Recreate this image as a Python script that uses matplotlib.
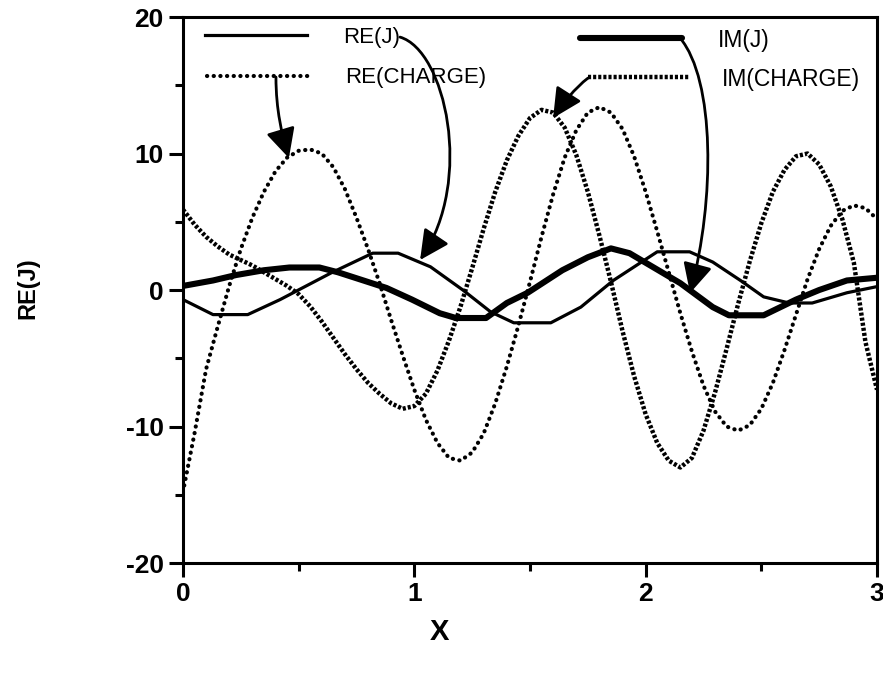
import matplotlib
matplotlib.use("Agg")
import matplotlib.pyplot as plt
from matplotlib.patches import FancyArrowPatch
from matplotlib.path import Path
from matplotlib.ticker import MultipleLocator

plt.rcParams["axes.unicode_minus"] = False

# ---- data ----
x_charge = [0.00, 0.05, 0.10, 0.15, 0.20, 0.25, 0.30, 0.35, 0.40, 0.45,
            0.50, 0.55, 0.60, 0.65, 0.70, 0.75, 0.80, 0.85, 0.90, 0.95,
            1.00, 1.05, 1.10, 1.15, 1.20, 1.25, 1.30, 1.35, 1.40, 1.45,
            1.50, 1.55, 1.60, 1.65, 1.70, 1.75, 1.80, 1.85, 1.90, 1.95,
            2.00, 2.05, 2.10, 2.15, 2.20, 2.25, 2.30, 2.35, 2.40, 2.45,
            2.50, 2.55, 2.60, 2.65, 2.70, 2.75, 2.80, 2.85, 2.90, 2.95, 3.00]

re_charge = [-14.8, -10.5, -5.8, -2.7, 0.3, 3.0, 5.3, 7.2, 8.7, 9.7,
             10.2, 10.3, 10.0, 9.0, 7.4, 5.3, 3.0, 0.5, -2.2, -4.8,
             -7.3, -9.5, -11.2, -12.3, -12.5, -11.9, -10.5, -8.3, -5.6, -2.6,
             0.6, 3.9, 7.0, 9.7, 11.7, 13.0, 13.4, 13.0, 11.8, 9.8,
             7.2, 4.3, 1.3, -1.7, -4.5, -7.0, -8.9, -10.0, -10.3, -9.9,
             -8.7, -6.8, -4.4, -1.8, 0.8, 3.0, 4.7, 5.8, 6.2, 6.0, 5.2]

im_charge = [5.9, 4.8, 3.9, 3.2, 2.6, 2.2, 1.8, 1.3, 0.8, 0.3,
             -0.3, -1.2, -2.3, -3.5, -4.7, -5.8, -6.8, -7.6, -8.3, -8.7,
             -8.5, -7.6, -5.9, -3.7, -1.2, 1.6, 4.5, 7.2, 9.5, 11.3,
             12.6, 13.2, 13.0, 11.9, 9.9, 7.2, 4.0, 0.6, -3.0, -6.3,
             -9.1, -11.2, -12.5, -13.0, -12.3, -10.3, -7.5, -4.3, -1.0, 2.1,
             4.9, 7.2, 8.8, 9.8, 10.0, 9.2, 7.6, 5.2, 2.0, -3.8, -7.3]

x_rej = [0.00, 0.13, 0.28, 0.42, 0.64, 0.82, 0.93, 1.07, 1.21, 1.33, 1.43,
         1.59, 1.72, 1.86, 2.05, 2.19, 2.29, 2.41, 2.51, 2.62, 2.72, 2.87, 3.00]
re_j = [-0.7, -1.8, -1.8, -0.7, 1.25, 2.7, 2.7, 1.7, 0.0, -1.6, -2.4,
        -2.4, -1.25, 0.7, 2.8, 2.8, 2.05, 0.7, -0.5, -0.95, -0.95, -0.2, 0.25]

x_imj = [0.00, 0.13, 0.23, 0.35, 0.46, 0.59, 0.67, 0.78, 0.88, 0.99, 1.11,
         1.18, 1.31, 1.40, 1.49, 1.64, 1.75, 1.85, 1.93, 2.03, 2.15, 2.29,
         2.36, 2.51, 2.65, 2.75, 2.87, 3.00]
im_j = [0.3, 0.7, 1.1, 1.45, 1.65, 1.65, 1.3, 0.7, 0.15, -0.7, -1.7,
        -2.05, -2.05, -0.95, -0.2, 1.45, 2.4, 3.05, 2.7, 1.7, 0.5, -1.25,
        -1.85, -1.85, -0.7, 0.0, 0.7, 0.9]

x_ticks = [0, 1, 2, 3]
y_ticks = [-20, -10, 0, 10, 20]

# ---- styles ----
FONT = ["Liberation Sans", "DejaVu Sans"]
style_rej = dict(color="black", lw=2.3, solid_joinstyle="round")
style_imj = dict(color="black", lw=4.4, solid_joinstyle="round", solid_capstyle="round")
style_rec = dict(color="black", lw=3.0, linestyle=(0, (0.05, 1.55)), dash_capstyle="round")
style_imc = dict(color="black", lw=3.2, linestyle=(0, (0.7, 0.45)), dash_capstyle="butt")

fig = plt.figure(figsize=(8.83, 6.73), dpi=100)
ax = fig.add_axes([0.2072, 0.1634, 0.7860, 0.8113])

ax.plot(x_rej, re_j, **style_rej)
ax.plot(x_imj, im_j, **style_imj)
ax.plot(x_charge, re_charge, **style_rec)
ax.plot(x_charge, im_charge, **style_imc)

ax.set_xlim(0, 3)
ax.set_ylim(-20, 20)
ax.set_xticks(x_ticks)
ax.set_yticks(y_ticks)
ax.xaxis.set_minor_locator(MultipleLocator(0.5))
ax.yaxis.set_minor_locator(MultipleLocator(5))
ax.tick_params(which="major", direction="out", length=10, width=2.2, pad=4,
               labelsize=19)
ax.tick_params(axis="x", which="major", pad=4)
ax.tick_params(which="minor", direction="out", length=6, width=2.2)
for lab in ax.get_xticklabels() + ax.get_yticklabels():
    lab.set_fontfamily(FONT)
    lab.set_fontweight("bold")
for s in ax.spines.values():
    s.set_linewidth(2.2)

fig.text(28 / 883, 1 - 288 / 673, "RE(J)", rotation=90, ha="center", va="center",
         fontsize=17, fontweight="bold", family=FONT)
fig.text(439 / 883, 1 - 632 / 673, "X", ha="center", va="center",
         fontsize=21, fontweight="bold", family=FONT)

# ---- hand-drawn style legend ----
ax.plot([0.095, 0.536], [18.68, 18.68], **style_rej)
ax.plot([0.104, 0.549], [15.68, 15.68], **style_rec)
ax.plot([1.716, 2.157], [18.46, 18.46], **style_imj)
ax.plot([1.751, 2.192], [15.60, 15.60], **style_imc)

ax.text(0.692, 18.5, "RE(J)", va="center", ha="left", fontsize=16, family=FONT)
ax.text(0.700, 15.6, "RE(CHARGE)", va="center", ha="left", fontsize=16, family=FONT)
ax.text(2.313, 18.3, "IM(J)", va="center", ha="left", fontsize=16.5, family=FONT)
ax.text(2.330, 15.4, "IM(CHARGE)", va="center", ha="left", fontsize=16.5, family=FONT)

arrows = [
    [(0.938, 18.53), (1.133, 17.58), (1.26, 8.06), (1.025, 2.20)],
    [(0.402, 15.60), (0.402, 13.19), (0.428, 11.36), (0.458, 9.67)],
    [(1.751, 15.53), (1.695, 14.80), (1.639, 13.63), (1.600, 12.60)],
    [(2.149, 18.46), (2.300, 15.38), (2.300, 6.59), (2.192, -0.22)],
]
for pts in arrows:
    path = Path(pts, [Path.MOVETO, Path.CURVE4, Path.CURVE4, Path.CURVE4])
    arr = FancyArrowPatch(path=path, arrowstyle="-|>,head_length=0.9,head_width=0.45",
                          mutation_scale=20, lw=2.0, color="black")
    ax.add_patch(arr)

fig.savefig("out.png", dpi=100)
